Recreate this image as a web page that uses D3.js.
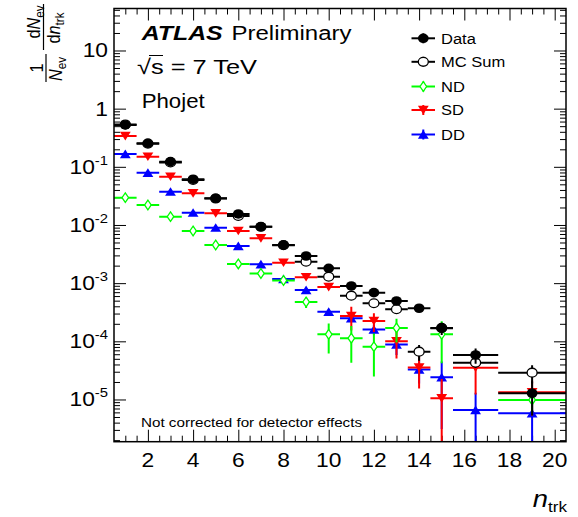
<!DOCTYPE html>
<html>
<head>
<meta charset="utf-8">
<script src="https://cdn.jsdelivr.net/npm/d3@7"></script>
<style>
  body { margin: 0; background: #fff; }
  text { font-family: "Liberation Sans", Arial, Helvetica, sans-serif; fill: #000; }
</style>
</head>
<body>
<svg id="chart" width="578" height="517"></svg>
<script>
// bin centres and bin edges (n_trk)
const nTrk = [1, 2, 3, 4, 5, 6, 7, 8, 9, 10, 11, 12, 13, 14, 15, 16.5, 19];
const binEdges = [0.5, 1.5, 2.5, 3.5, 4.5, 5.5, 6.5, 7.5, 8.5, 9.5, 10.5, 11.5, 12.5, 13.5, 14.5, 15.5, 17.5, 20.5];

const dataVal = [0.524, 0.254, 0.1226, 0.0611, 0.0288, 0.01546, 0.00935, 0.00453, 0.00293, 0.0018, 0.000894, 0.000686, 0.000494, 0.00037, 0.000168, 0.0000582, 0.0000128];
const dataErr = [0.004, 0.002, 0.001, 0.0006, 0.0003, 0.0002, 0.00012, 0.00008, 0.00006, 0.00005, 0.00003, 0.00003, 0.000025, 0.00002, 0.00004, 0.000017, 0.0000075];

const mcVal = [0.535, 0.25, 0.119, 0.0595, 0.0285, 0.0143, 0.0093, 0.0045, 0.00234, 0.00129, 0.00061, 0.000451, 0.000356, 0.0000664, 0.00017, 0.000043, 0.0000289];
const mcErr = [0.002, 0.001, 0.0005, 0.0003, 0.0002, 0.0001, 0.00008, 0.00005, 0.00004, 0.00003, 0.00002, 0.00002, 0.00002, 0.00002, 0.00003, 0.000008, 0.00001];

const ndVal = [0.0295, 0.0221, 0.0139, 0.00789, 0.00453, 0.00214, 0.001466, 0.001112, 0.000475, 0.000132, 0.000113, 0.0000809, 0.00017, null, 0.000132, null, 0.0000098];
const ndErr = [0.0003, 0.0003, 0.0002, 0.0001, 0.00008, 0.00005, 0.00004, 0.00004, 0.0001, 0.00007, 0.00007, 0.000056, 0.000075, null, 0.00009, null, 0.000004];

const sdVal = [0.339, 0.1494, 0.0677, 0.0351, 0.0159, 0.00789, 0.00591, 0.00225, 0.001267, 0.000859, 0.000273, 0.000224, 0.0001006, 0.0000355, 0.0000105, 0.0000352, 0.0000133];
const sdErr = [0.003, 0.0015, 0.0008, 0.0004, 0.0002, 0.0001, 0.00008, 0.00005, 0.00004, 0.00003, 0.00012, 0.00008, 0.00005, 0.00002, 0.000012, 0.000023, 0.000008];

const ddVal = [0.1663, 0.0793, 0.0374, 0.01628, 0.00899, 0.004355, 0.002113, 0.00118, 0.000763, 0.000323, 0.000249, 0.00016, 0.0000883, 0.0000328, 0.0000241, 0.0000066, 0.0000058];
const ddErr = [0.002, 0.001, 0.0005, 0.0003, 0.0002, 0.0001, 0.00006, 0.00004, 0.00003, 0.00003, 0.00003, 0.00003, 0.00003, 0.000014, 0.000021, 0.0000065, 0.000006];

const legendLabels = ['Data', 'MC Sum', 'ND', 'SD', 'DD'];
const xTickLabels = [2, 4, 6, 8, 10, 12, 14, 16, 18, 20];
const yTickExp = [-5, -4, -3, -2, -1, 0, 1];

const SX = 1.14; // picture is stretched sideways a bit
const pLeft = 114, pRight = 566, pTop = 8.5, pBottom = 441.7;

const svg = d3.select('#chart');

const x = d3.scaleLinear().domain([0.5, 20.5]).range([pLeft, pRight]);
const y = d3.scaleLog().domain([1.88e-6, 52.7]).range([pBottom, pTop]);

function label(parent, px, py, str, fs, anchor) {
  return parent.append('text')
    .attr('transform', 'translate(' + px + ',' + py + ') scale(' + SX + ',1)')
    .attr('text-anchor', anchor || 'start')
    .style('font-size', fs + 'px')
    .text(str);
}

// ticks
const xMinor = d3.range(1, 20.5, 0.5).filter(v => xTickLabels.indexOf(v) < 0);
const yMajor = yTickExp.map(e => Math.pow(10, e));
const yMinor = [];
for (let e = -6; e <= 1; e++) {
  for (let k = 2; k <= 9; k++) {
    let v = k * Math.pow(10, e);
    if (v > y.domain()[0] && v < y.domain()[1]) yMinor.push(v);
  }
}

function tickGroup(axis, tr) {
  svg.append('g')
    .attr('transform', tr)
    .call(axis.tickFormat(''))
    .call(g => g.select('.domain').remove())
    .selectAll('line').attr('stroke', '#000').attr('stroke-width', 1);
}
tickGroup(d3.axisBottom(x).tickValues(xTickLabels).tickSize(-12), 'translate(0,' + pBottom + ')');
tickGroup(d3.axisBottom(x).tickValues(xMinor).tickSize(-6), 'translate(0,' + pBottom + ')');
tickGroup(d3.axisTop(x).tickValues(xTickLabels).tickSize(-12), 'translate(0,' + pTop + ')');
tickGroup(d3.axisTop(x).tickValues(xMinor).tickSize(-6), 'translate(0,' + pTop + ')');
tickGroup(d3.axisLeft(y).tickValues(yMajor).tickSize(-12), 'translate(' + pLeft + ',0)');
tickGroup(d3.axisLeft(y).tickValues(yMinor).tickSize(-6), 'translate(' + pLeft + ',0)');
tickGroup(d3.axisRight(y).tickValues(yMajor).tickSize(-12), 'translate(' + pRight + ',0)');
tickGroup(d3.axisRight(y).tickValues(yMinor).tickSize(-6), 'translate(' + pRight + ',0)');

// tick labels
xTickLabels.forEach(v => label(svg, x(v), 467, String(v), 20, 'middle'));

yTickExp.forEach((e, i) => {
  const t = svg.append('text')
    .attr('transform', 'translate(108,' + (y(yMajor[i]) + 7) + ') scale(' + SX + ',1)')
    .attr('text-anchor', 'end')
    .style('font-size', '20px');
  if (e === 1) t.text('10');
  else if (e === 0) t.text('1');
  else {
    t.append('tspan').text('10');
    t.append('tspan').attr('dy', -9).style('font-size', '13px').text(String(e));
  }
});

// plot area
svg.append('clipPath').attr('id', 'clip')
  .append('rect').attr('x', pLeft).attr('y', pTop).attr('width', pRight - pLeft).attr('height', pBottom - pTop);
const plot = svg.append('g').attr('clip-path', 'url(#clip)');

// markers
const markers = {
  full: (g, cx, cy, c) => g.append('ellipse').attr('cx', cx).attr('cy', cy).attr('rx', 5.4).attr('ry', 4.8).attr('fill', c),
  open: (g, cx, cy, c) => g.append('ellipse').attr('cx', cx).attr('cy', cy).attr('rx', 5.0).attr('ry', 4.4)
    .attr('fill', '#fff').attr('stroke', c).attr('stroke-width', 1.3),
  diamond: (g, cx, cy, c) => g.append('path').attr('d', 'M0,-4.8L3.3,0L0,4.8L-3.3,0Z')
    .attr('transform', 'translate(' + cx + ',' + cy + ')').attr('fill', '#fff').attr('stroke', c).attr('stroke-width', 1.3),
  down: (g, cx, cy, c) => g.append('path').attr('d', 'M-5.4,-4.2L5.4,-4.2L0,4.4Z')
    .attr('transform', 'translate(' + cx + ',' + cy + ')').attr('fill', c),
  up: (g, cx, cy, c) => g.append('path').attr('d', 'M-5.4,4.2L5.4,4.2L0,-4.4Z')
    .attr('transform', 'translate(' + cx + ',' + cy + ')').attr('fill', c)
};

function drawSeries(vals, errs, color, marker) {
  const g = plot.append('g');
  vals.forEach((v, i) => {
    if (v == null) return;
    const cx = x(nTrk[i]), cy = y(v);
    const lo = v - errs[i], hi = v + errs[i];
    g.append('line')
      .attr('x1', x(binEdges[i])).attr('x2', x(binEdges[i + 1]))
      .attr('y1', cy).attr('y2', cy)
      .attr('stroke', color).attr('stroke-width', 2);
    g.append('line')
      .attr('x1', cx).attr('x2', cx)
      .attr('y1', y(hi)).attr('y2', lo > y.domain()[0] ? y(lo) : pBottom + 2)
      .attr('stroke', color).attr('stroke-width', 2);
    markers[marker](g, cx, cy, color);
  });
}

drawSeries(ddVal, ddErr, '#0000ff', 'up');
drawSeries(sdVal, sdErr, '#ff0000', 'down');
drawSeries(ndVal, ndErr, '#00ff00', 'diamond');
drawSeries(mcVal, mcErr, '#000', 'open');
drawSeries(dataVal, dataErr, '#000', 'full');

// frame
svg.append('rect')
  .attr('x', pLeft).attr('y', pTop).attr('width', pRight - pLeft).attr('height', pBottom - pTop)
  .attr('fill', 'none').attr('stroke', '#000').attr('stroke-width', 1.5);

// legend
const legColors = ['#000', '#000', '#00ff00', '#ff0000', '#0000ff'];
const legMarkers = ['full', 'open', 'diamond', 'down', 'up'];
const legY = [38.3, 61.8, 86.5, 110, 134.5];
const leg = svg.append('g');
legendLabels.forEach((name, i) => {
  const cy = legY[i];
  leg.append('line').attr('x1', 411.5).attr('x2', 435).attr('y1', cy).attr('y2', cy)
    .attr('stroke', legColors[i]).attr('stroke-width', 2);
  leg.append('line').attr('x1', 423.3).attr('x2', 423.3).attr('y1', cy - 5).attr('y2', cy + 5)
    .attr('stroke', legColors[i]).attr('stroke-width', 2);
  markers[legMarkers[i]](leg, 423.3, cy, legColors[i]);
  label(leg, 441, cy + 5.2, name, 14.5);
});

// ATLAS label and texts
svg.append('text').attr('x', 141.7).attr('y', 39.5)
  .attr('textLength', 81).attr('lengthAdjust', 'spacingAndGlyphs')
  .style('font-size', '20px').style('font-weight', 'bold').style('font-style', 'italic')
  .text('ATLAS');
svg.append('text').attr('x', 231.5).attr('y', 39.5)
  .attr('textLength', 120).attr('lengthAdjust', 'spacingAndGlyphs')
  .style('font-size', '20px')
  .text('Preliminary');
svg.append('text').attr('x', 137).attr('y', 74)
  .attr('textLength', 120).attr('lengthAdjust', 'spacingAndGlyphs')
  .style('font-size', '21px')
  .text('\u221As = 7 TeV');
svg.append('line').attr('x1', 149).attr('x2', 163).attr('y1', 55.5).attr('y2', 55.5)
  .attr('stroke', '#000').attr('stroke-width', 1);
svg.append('text').attr('x', 141.7).attr('y', 107.5)
  .attr('textLength', 63).attr('lengthAdjust', 'spacingAndGlyphs')
  .style('font-size', '21px')
  .text('Phojet');
svg.append('text').attr('x', 141).attr('y', 426.5)
  .attr('textLength', 221).attr('lengthAdjust', 'spacingAndGlyphs')
  .style('font-size', '13px')
  .text('Not corrected for detector effects');

// x axis title
const xt = svg.append('text')
  .attr('transform', 'translate(567,507) scale(' + SX + ',1)')
  .attr('text-anchor', 'end');
xt.append('tspan').style('font-size', '24px').style('font-style', 'italic').text('n');
xt.append('tspan').attr('dy', 5).style('font-size', '15px').text('trk');

// y axis title: 1/N_ev dN_ev/dn_trk, rotated so that text reads upward
function yTitlePart(sx, sy, parts, fs) {
  const t = svg.append('text')
    .attr('transform', 'translate(' + sx + ',' + sy + ') rotate(-90) scale(0.9,1)')
    .attr('text-anchor', 'middle')
    .style('font-size', fs + 'px');
  parts.forEach(p => {
    const s = t.append('tspan').text(p.t);
    if (p.i) s.style('font-style', 'italic');
    if (p.sub) s.attr('dy', 4).style('font-size', (fs * 0.72) + 'px');
  });
  return t;
}
// first fraction (1 / N_ev), centred at screen y = 68
yTitlePart(43, 68, [{ t: '1' }], 18);
svg.append('line').attr('x1', 46).attr('x2', 46).attr('y1', 54).attr('y2', 82).attr('stroke', '#000').attr('stroke-width', 1.2);
yTitlePart(62, 69, [{ t: 'N', i: true }, { t: 'ev', sub: true }], 18);
// second fraction (dN_ev / dn_trk), centred near screen y = 27
yTitlePart(40, 22, [{ t: 'd' }, { t: 'N', i: true }, { t: 'ev', sub: true }], 18);
svg.append('line').attr('x1', 43.5).attr('x2', 43.5).attr('y1', 4).attr('y2', 50).attr('stroke', '#000').attr('stroke-width', 1.2);
yTitlePart(60, 28, [{ t: 'd' }, { t: 'n', i: true }, { t: 'trk', sub: true }], 18);
</script>
</body>
</html>
